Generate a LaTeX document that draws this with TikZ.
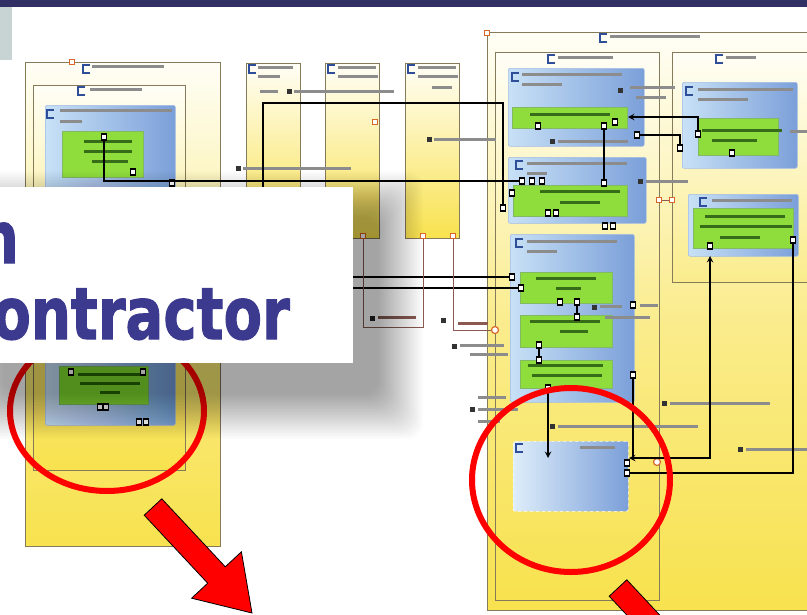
\documentclass[tikz,border=0pt]{standalone}
\usepackage{fontspec}
\newfontfamily\headfont{DejaVu Sans}[BoldFeatures={FakeBold=1.6}]
\usetikzlibrary{arrows,positioning}
\definecolor{navybar}{HTML}{322F64}
\definecolor{tabgray}{HTML}{C8D4D4}
\definecolor{ylw}{HTML}{F8E24E}
\definecolor{ylwlt}{HTML}{FAEC8C}
\definecolor{cream}{HTML}{FFFEF6}
\definecolor{bluelt}{HTML}{C8E1F6}
\definecolor{bluedk}{HTML}{7B9FD9}
\definecolor{lime}{HTML}{8EDD3C}
\definecolor{limedk}{HTML}{4E9A22}
\definecolor{framec}{HTML}{857A5A}
\definecolor{wireb}{HTML}{8A5A50}
\definecolor{orng}{HTML}{D8682A}
\definecolor{titleblue}{HTML}{3C3A8E}
\definecolor{iconblue}{HTML}{2E4E9A}
\tikzset{
  sz/.style 2 args={minimum width=#1pt, minimum height=#2pt},
  frame/.style={draw=framec, line width=1.3pt, anchor=north west, inner sep=0pt, top color=cream, bottom color=ylw},
  bluebox/.style={draw=bluedk!70, line width=0.6pt, anchor=north west, inner sep=0pt, left color=bluelt, right color=bluedk, rounded corners=2pt},
  greenbox/.style={draw=limedk!70, line width=0.6pt, anchor=north west, inner sep=0pt, fill=lime},
  portsq/.style={draw=black, fill=white, line width=1.6pt, minimum width=5pt, minimum height=6pt, inner sep=0pt},
  oport/.style={draw=orng, fill=white, line width=1.2pt, minimum size=5pt, inner sep=0pt},
  ocirc/.style={circle, draw=orng, fill=white, line width=1.2pt, minimum size=7pt, inner sep=0pt},
  wire/.style={draw=black, line width=1.8pt},
  bwire/.style={draw=wireb, line width=1pt},
  tline/.style={fill=black!45},
  gline/.style={fill=limedk!70!black},
  icn/.style={draw=iconblue, line width=1.4pt},
  redring/.style={draw=red, line width=6pt},
  softshadow/.style={fill=black, opacity=0.011, rounded corners=16pt},
  bigarrow/.style={fill=red, draw=black, line width=0.8pt, line join=miter},
  title/.style={text=titleblue, font=\headfont\bfseries\fontsize{72}{74}\selectfont, inner sep=0pt}
}
\begin{document}
\begin{tikzpicture}[x=1pt,y=-1pt]
  \useasboundingbox (0,0) rectangle (807,614);
  \clip (0,0) rectangle (807,614);
  % slide background
  \fill[white] (0,0) rectangle (807,614);
  \fill[navybar] (0,0) rectangle (807,7);
  \fill[tabgray] (0,7) rectangle (12,60);

  % left package
  \node[frame, sz={195}{484}, middle color=ylwlt] (lcont) at (25,62) {};
  \node[frame, sz={152}{385}, middle color=ylwlt] (linner) at (33,85) {};
  \node[bluebox, sz={130}{320}] (lblue) at (45,105) {};
  \node[greenbox, sz={81}{46}] (lgreen1) at (62,131) {};
  \node[greenbox, sz={89}{38}] (lgreen2) at (59,366) {};

  % middle columns
  \foreach \nm/\x in {colA/246, colB/325, colC/405}{
    \node[frame, sz={54}{175}, line width=1pt] (\nm) at (\x,63) {};
  }

  % right package
  \node[frame, sz={330}{578}, middle color=ylwlt] (rcont) at (487,32) {};
  \node[frame, sz={164}{548}, middle color=ylwlt] (rleft) at (495,52) {};
  \node[frame, sz={140}{230}, bottom color=ylwlt] (rright) at (672,52) {};
  \node[bluebox, sz={136}{78}] (rblue1) at (508,68) {};
  \node[bluebox, sz={138}{66}] (rblue2) at (508,157) {};
  \node[bluebox, sz={124}{168}] (rblue3) at (510,234) {};
  \node[bluebox, sz={115}{70}, draw=white, dashed, left color=bluelt!60!white] (rblue4) at (513,441) {};
  \node[bluebox, sz={115}{86}] (rblueA) at (682,82) {};
  \node[bluebox, sz={110}{62}] (rblueB) at (688,194) {};
  \node[greenbox, sz={115}{21}] (rgreen1) at (512,107) {};
  \node[greenbox, sz={114}{31}] (rgreen2) at (513,185) {};
  \node[greenbox, sz={92}{31}] (rgreen3a) at (520,272) {};
  \node[greenbox, sz={92}{32}] (rgreen3b) at (520,315) {};
  \node[greenbox, sz={92}{28}] (rgreen3c) at (520,360) {};
  \node[greenbox, sz={80}{37}] (rgreenA) at (698,118) {};
  \node[greenbox, sz={100}{40}] (rgreenB) at (693,208) {};

  % blurred labels
  \foreach \x/\y/\w in {92/65/72, 90/88/52, 60/109/112, 60/120/22,
      258/66/35, 258/75/22, 338/66/38, 338/75/40, 418/66/38, 418/75/40, 432/86/20,
      260/90/18, 294/90/100, 243/167/108, 434/138/62,
      460/344/44, 470/353/38, 478/396/28, 478/408/40, 478/420/22,
      610/35/90, 558/56/55, 726/56/30, 522/73/100, 522/83/40, 630/86/45, 636/96/30,
      558/140/70, 527/162/100, 527/172/20, 646/180/42, 527/240/90, 527/250/30,
      600/305/22, 640/304/18, 605/316/45, 698/88/95, 698/98/50, 790/130/17,
      712/199/80, 670/402/100, 558/425/140, 746/448/61, 580/446/35}
    \fill[tline] (\x,\y) rectangle ++(\w,3.2);
  \foreach \x/\y/\w in {84/140/48, 84/150/48, 92/160/36, 78/373/62, 80/382/60, 100/391/20,
      530/113/80, 540/190/80, 560/201/40, 536/277/60, 556/287/25, 530/320/70, 560/330/28,
      528/364/75, 532/374/70, 702/129/80, 712/139/45, 705/215/80, 700/225/92, 720/236/40}
    \fill[gline] (\x,\y) rectangle ++(\w,3.2);
  \foreach \x/\y in {287/89, 236/166, 427/137, 370/316, 441/318, 452/344, 470/407,
      618/88, 550/139, 638/179, 592/305, 662/401, 550/424, 738/447}
    \fill[black!80] (\x,\y) rectangle ++(4.5,4.5);
  \fill[wireb] (378,316) rectangle ++(38,3.2);
  \fill[wireb] (458,322) rectangle ++(30,3.2);

  % header icons
  \foreach \x/\y in {83/65, 78/87, 47/110, 249/65, 328/65, 408/65, 600/34, 548/55,
      716/55, 512/73, 516/161, 516/239, 686/87, 700/198, 516/444}
    \draw[icn] (\x+7,\y) -- (\x,\y) -- (\x,\y+8) -- (\x+7,\y+8);

  % connector end points
  \coordinate (jn) at (503,181);
  \coordinate (jtop) at (503,103);
  \coordinate (ltop) at (263,200);
  \coordinate (lw1) at (200,277);
  \coordinate (lw2) at (200,288);
  \coordinate (g1e) at (628,117);
  \coordinate (b4in) at (629,458);
  \coordinate (bBbot) at (710,256);
  \coordinate (b4tip) at (548,458);

  % ports
  \foreach \nm/\x/\y in {lp1/104/137, lp2/133/172, lp3/172/183, lp4/71/372, lp5/143/372,
      lp6/100/407, lp7/106/407, lp8/139/422, lp9/146/422,
      rp0/503/208, rp1/512/193, r2a/522/181, r2b/532/181, r2c/542/181, r2d/604/183,
      r1a/538/126, r1b/604/126, r1c/615/122, r2e/548/213, r2f/556/213, r2g/605/226, r2h/613/226,
      ra1/698/134, ra2/732/153, rc1/637/135, rc2/680/148, rb1/710/246, rb2/793/240,
      rpa/512/277, rpb/521/288, g3a1/577/302, g3a2/577/317, g3x/560/302, g3y/633/305,
      g3b1/539/345, g3b2/539/360, r3p/633/375, g3p/548/388, b4p1/627/463, b4p2/627/473}
    \node[portsq] (\nm) at (\x,\y) {};
  \foreach \nm/\x/\y in {op0/72/62, op4/487/33, op5/375/122, op1/363/236, op2/423/236,
      op3/453/236, ob1/659/200, ob2/672/200}
    \node[oport] (\nm) at (\x,\y) {};
  \node[ocirc] (oc) at (495,330) {};
  \node[ocirc] (oc2) at (657,462) {};

  % connectors
  \draw[wire] (lp1) |- (jn);
  \draw[wire] (ltop) |- (jtop) -- (jn) -- (rp0);
  \draw[wire] (jn) -- (r2a);
  \draw[wire] (lw1) -- (rpa);
  \draw[wire] (lw2) -- (rpb);
  \draw[wire] (r1b) -- (r2d);
  \draw[wire, -stealth] (ra1) |- (g1e);
  \draw[wire] (rc1) -| (rc2);
  \draw[wire, stealth-stealth] (b4in) -| (bBbot);
  \draw[wire] (rb2) |- (b4p2);
  \draw[wire] (r3p) -- (r3p |- b4in);
  \draw[wire, -stealth] (g3p) -- (b4tip);
  \draw[wire] (g3a1) -- (g3a2);
  \draw[wire] (g3b1) -- (g3b2);
  \draw[bwire] (op1) -- ++(0,91) -| (op2);
  \draw[bwire] (op3) |- (oc);
  \draw[bwire] (ob1) -- (ob2);
  \foreach \nm in {rpa, rpb, r2a, b4p2, g3a1, g3a2, g3b1, g3b2, r1b, r2d, ra1, rc1, rc2, rb2, r3p, g3p}
    \node[portsq] (\nm copy) at (\nm) {};

  % red highlight rings
  \draw[redring] (107,411) ellipse [x radius=97pt, y radius=80pt];
  \draw[redring] (571,480) ellipse [x radius=99pt, y radius=92pt];

  % title card with soft shadow
  \foreach \i [evaluate=\i as \r using 46-1.5*\i] in {0,...,30}
    \fill[softshadow] (-20-\r+24,187-\r+30) rectangle (353+\r+24,363+\r+30);
  \fill[white] (-20,187) rectangle (353,363);
  \node[title, anchor=base east] (ttl1) at (19,263) {\scalebox{0.78}[1]{n}};
  \node[title, anchor=base east] (ttl2) at (290,339) {\scalebox{0.78}[1]{ontractor}};

  % red arrows
  \draw[bigarrow] (144.2,515.2) -- (161.8,498.8) -- (225.3,566.8) -- (241.4,551.8)
    -- (252,613) -- (191.6,598.2) -- (207.7,583.2) -- cycle;
  \draw[bigarrow] (609.2,596.2) -- (626.8,579.8) -- (690.3,647.8) -- (706.4,632.8)
    -- (717,694) -- (656.6,679.2) -- (672.7,664.2) -- cycle;
\end{tikzpicture}
\end{document}
